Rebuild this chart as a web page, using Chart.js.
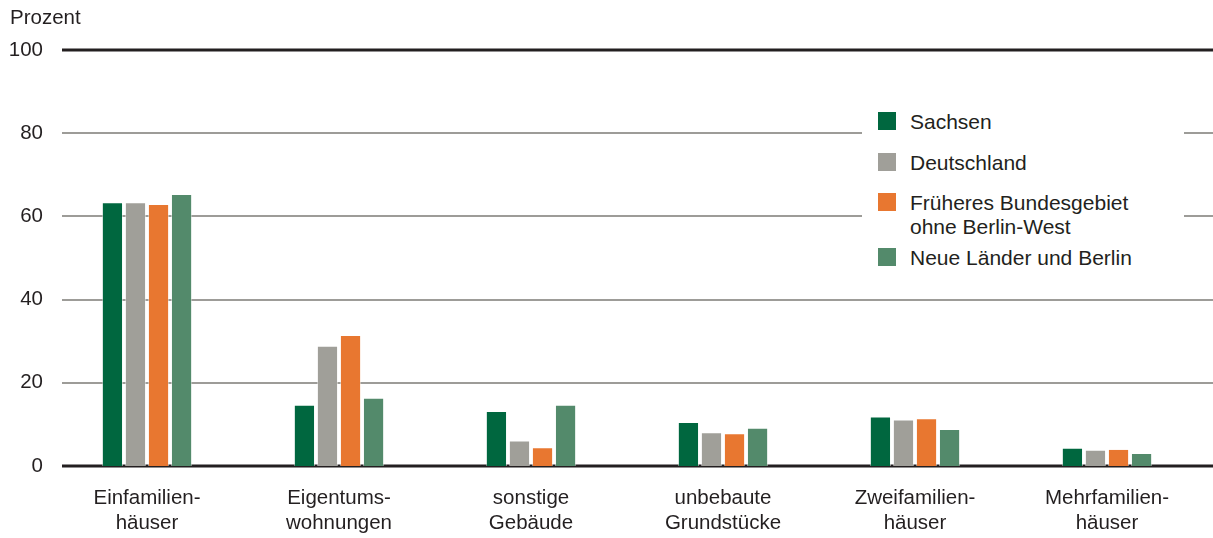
<!DOCTYPE html>
<html>
<head>
<meta charset="utf-8">
<script src="https://cdn.jsdelivr.net/npm/chart.js@4/dist/chart.umd.min.js"></script>
<style>
  body { margin: 0; background: #fff; font-family: "Liberation Sans", Arial, sans-serif; }
  #wrap { position: relative; width: 1213px; height: 538px; }
  #unit { position: absolute; left: 10px; top: 5px; font-size: 20.5px; color: #231f20; }
  #legend { position: absolute; left: 862px; top: 100px; width: 322px; height: 178px; background: #fff; }
  .item { position: absolute; left: 16px; font-size: 21px; color: #231f20; line-height: 24px; }
  .item span { position: absolute; left: 0; top: 2px; width: 18px; height: 18px; }
  .item div { margin-left: 32px; white-space: nowrap; }
</style>
</head>
<body>
<div id="wrap">
  <canvas id="myChart" width="1213" height="538"></canvas>
  <div id="unit">Prozent</div>
  <div id="legend"></div>
</div>
<script>
const categories = [
  ["Einfamilien-", "häuser"],
  ["Eigentums-", "wohnungen"],
  ["sonstige", "Gebäude"],
  ["unbebaute", "Grundstücke"],
  ["Zweifamilien-", "häuser"],
  ["Mehrfamilien-", "häuser"]
];
const seriesNames = ["Sachsen", "Deutschland", "Früheres Bundesgebiet\nohne Berlin-West", "Neue Länder und Berlin"];
const sachsen = [63.4, 14.7, 13.2, 10.6, 11.9, 4.4];
const deutschland = [63.4, 28.9, 6.1, 8.1, 11.2, 3.9];
const frueheresBG = [63.0, 31.5, 4.5, 7.9, 11.5, 4.1];
const neueLaender = [65.4, 16.4, 14.7, 9.2, 8.9, 3.1];
const yTicks = [0, 20, 40, 60, 80, 100];
const colors = ["#00673f", "#a09f99", "#e87730", "#538a6b"];

const allValues = [sachsen, deutschland, frueheresBG, neueLaender];

// horizontal lines drawn from the axis labels to the right edge
const gridPlugin = {
  id: 'gridPlugin',
  beforeDatasetsDraw(chart) {
    const ctx = chart.ctx;
    const y = chart.scales.y;
    ctx.save();
    yTicks.forEach(v => {
      const py = Math.round(y.getPixelForValue(v));
      const edge = v === 0 || v === 100;
      ctx.strokeStyle = edge ? '#231f20' : '#9d9c98';
      ctx.lineWidth = edge ? 3 : 2;
      ctx.beginPath();
      ctx.moveTo(62, py);
      ctx.lineTo(chart.width, py);
      ctx.stroke();
    });
    ctx.restore();
  }
};

const ctx = document.getElementById('myChart').getContext('2d');
new Chart(ctx, {
  type: 'bar',
  data: {
    labels: categories,
    datasets: allValues.map((vals, i) => ({
      label: seriesNames[i],
      data: vals,
      backgroundColor: colors[i],
      borderColor: 'rgba(255,255,255,0.5)',
      borderWidth: 1,
      categoryPercentage: 0.48,
      barPercentage: 0.92
    }))
  },
  options: {
    responsive: false,
    animation: false,
    events: [],
    layout: { padding: { top: 50, right: 10, left: 0, bottom: 0 } },
    plugins: { legend: { display: false }, tooltip: { enabled: false } },
    scales: {
      x: {
        grid: { display: false, drawTicks: false },
        border: { display: false },
        ticks: { color: '#231f20', font: { family: 'Liberation Sans', size: 20.5 }, padding: 20, maxRotation: 0, autoSkip: false },
        afterFit(axis) { axis.height = 72; }
      },
      y: {
        min: 0, max: 100,
        afterBuildTicks(axis) { axis.ticks = yTicks.map(v => ({ value: v })); },
        grid: { display: false, drawTicks: false },
        border: { display: false },
        ticks: { color: '#231f20', font: { family: 'Liberation Sans', size: 20.5 }, padding: 8 },
        afterFit(axis) { axis.width = 51; }
      }
    }
  },
  plugins: [gridPlugin]
});

// legend as html
const legend = document.getElementById('legend');
const itemTops = [10, 51, 91, 146];
seriesNames.forEach((name, i) => {
  const el = document.createElement('div');
  el.className = 'item';
  el.style.top = itemTops[i] + 'px';
  const sw = document.createElement('span');
  sw.style.background = colors[i];
  const tx = document.createElement('div');
  tx.innerHTML = name.replace('\n', '<br>');
  el.appendChild(sw);
  el.appendChild(tx);
  legend.appendChild(el);
});
</script>
</body>
</html>
